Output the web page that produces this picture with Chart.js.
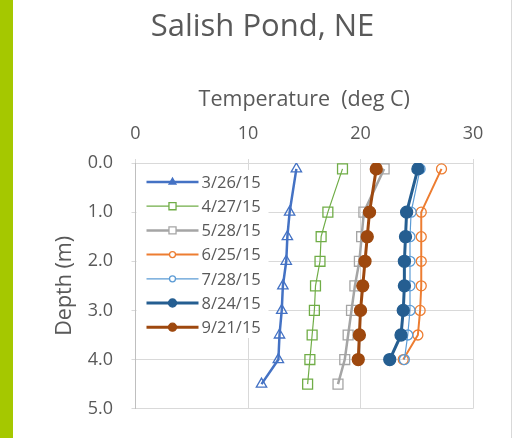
<!DOCTYPE html>
<html>
<head>
<meta charset="utf-8">
<script src="https://cdn.jsdelivr.net/npm/chart.js@4.4.1/dist/chart.umd.min.js"></script>
<style>
  html, body { margin: 0; padding: 0; background: #fff; }
  body { width: 517px; height: 438px; position: relative; overflow: hidden; }
  .bar { position: absolute; left: 0; top: 0; width: 13px; height: 438px; background: #a5c800; }
  .edge { position: absolute; left: 511px; top: 0; width: 1px; height: 438px; background: #d9d9d9; }
  .wrap { position: absolute; left: 0; top: 0; width: 517px; height: 438px; }
</style>
</head>
<body>
<div class="bar"></div>
<div class="edge"></div>
<div class="wrap"><canvas id="c"></canvas></div>
<script>
// depth of each reading (m)
const depths = [0.12, 1.0, 1.5, 2.0, 2.5, 3.0, 3.5, 4.0, 4.5];

const dates = ['3/26/15', '4/27/15', '5/28/15', '6/25/15', '7/28/15', '8/24/15', '9/21/15'];

// temperature (deg C) at each depth
const t0326 = [14.3, 13.7, 13.5, 13.4, 13.1, 13.0, 12.8, 12.7, 11.2];
const t0427 = [18.4, 17.1, 16.5, 16.4, 16.0, 15.9, 15.7, 15.5, 15.3];
const t0528 = [22.1, 20.3, 20.1, 19.9, 19.5, 19.2, 18.9, 18.6, 18.0];
const t0625 = [27.2, 25.4, 25.4, 25.4, 25.4, 25.3, 25.1, 23.8];
const t0728 = [25.3, 24.5, 24.4, 24.4, 24.4, 24.4, 24.2, 23.9];
const t0824 = [25.1, 24.1, 24.0, 23.9, 23.9, 23.8, 23.6, 22.6];
const t0921 = [21.4, 20.8, 20.6, 20.4, 20.2, 20.0, 19.9, 19.8];

const temps = [t0326, t0427, t0528, t0625, t0728, t0824, t0921];

const colors = ['#4472c4', '#70ad47', '#a5a5a5', '#ed7d31', '#5b9bd5', '#255e91', '#9e480e'];
const widths = [2.5, 1.2, 2.5, 2, 1.2, 3, 3];
const shapes = ['triangle', 'rect', 'rect', 'circle', 'circle', 'circle', 'circle'];
const radii = [6, 7, 7, 5, 5, 6, 6];
const filled = [false, false, false, false, false, true, true];

const datasets = dates.map((d, i) => ({
  label: d,
  data: temps[i].map((t, k) => ({ x: t, y: depths[k] })),
  showLine: true,
  borderColor: colors[i],
  borderWidth: widths[i],
  pointStyle: shapes[i],
  pointRadius: radii[i],
  pointBorderWidth: 1.3,
  pointBorderColor: colors[i],
  pointBackgroundColor: filled[i] ? colors[i] : 'rgba(0,0,0,0)',
  order: dates.length - i   // later series on top, like Excel
}));

const textColor = '#595959';
const gridColor = '#d9d9d9';
const fontFamily = '"Open Sans"';

// legend drawn inside the plot, top-left, line + marker like Excel
const insideLegend = {
  id: 'insideLegend',
  afterDatasetsDraw(chart) {
    const ctx = chart.ctx;
    const a = chart.chartArea;
    ctx.save();
    ctx.fillStyle = '#fff';
    ctx.fillRect(a.left + 1, a.top + 7, 132, 168);
    chart.data.datasets.forEach((ds, i) => {
      const y = a.top + 19 + i * 24.2;
      const x0 = a.left + 11, x1 = a.left + 63;
      ctx.strokeStyle = ds.borderColor;
      ctx.lineWidth = ds.borderWidth;
      ctx.beginPath();
      ctx.moveTo(x0, y);
      ctx.lineTo(x1, y);
      ctx.stroke();
      // open markers show white inside in the legend
      ctx.fillStyle = filled[i] || ds.pointStyle === 'triangle' ? ds.borderColor : '#fff';
      ctx.strokeStyle = ds.pointBorderColor;
      ctx.lineWidth = ds.pointBorderWidth;
      Chart.helpers.drawPoint(ctx, {
        pointStyle: ds.pointStyle,
        radius: ds.pointStyle === 'triangle' ? 4 : ds.pointRadius - 2,
        borderWidth: ds.pointBorderWidth,
        rotation: 0
      }, (x0 + x1) / 2, y);
      ctx.fillStyle = textColor;
      ctx.font = '16.5px ' + fontFamily;
      ctx.textBaseline = 'middle';
      ctx.textAlign = 'left';
      ctx.fillText(ds.label, a.left + 66, y + 1);
    });
    ctx.restore();
  }
};

new Chart(document.getElementById('c'), {
  type: 'scatter',
  data: { datasets },
  options: {
    responsive: true,
    maintainAspectRatio: false,
    animation: false,
    layout: { padding: { left: 52, right: 44, top: 0, bottom: 25 } },
    plugins: {
      legend: { display: false },
      tooltip: { enabled: false },
      title: {
        display: true,
        text: 'Salish Pond, NE',
        color: textColor,
        font: { family: fontFamily, size: 31, weight: 'normal' },
        padding: { top: 8.4, bottom: 0 }
      }
    },
    scales: {
      x: {
        type: 'linear',
        position: 'top',
        min: 0,
        max: 30,
        ticks: { stepSize: 10, color: textColor, font: { family: fontFamily, size: 18 }, padding: 14 },
        grid: { color: gridColor, tickLength: 4 },
        border: { color: gridColor },
        title: {
          display: true,
          text: 'Temperature  (deg C)',
          color: textColor,
          font: { family: fontFamily, size: 21.5 },
          padding: { top: 41.5, bottom: 0 }
        },
        afterFit(s) { s.height = 117.4; }
      },
      y: {
        type: 'linear',
        reverse: true,
        min: 0,
        max: 5,
        ticks: {
          stepSize: 1,
          color: textColor,
          font: { family: fontFamily, size: 18 },
          padding: 18.5,
          callback: v => v.toFixed(1)
        },
        grid: { color: gridColor, tickLength: 4 },
        border: { color: '#bfbfbf' },
        title: {
          display: true,
          text: 'Depth (m)',
          color: textColor,
          font: { family: fontFamily, size: 21.5 },
          padding: { top: 0, bottom: 0 }
        },
        afterFit(s) { s.width = 83.5; }
      }
    }
  },
  plugins: [insideLegend]
});
</script>
</body>
</html>
